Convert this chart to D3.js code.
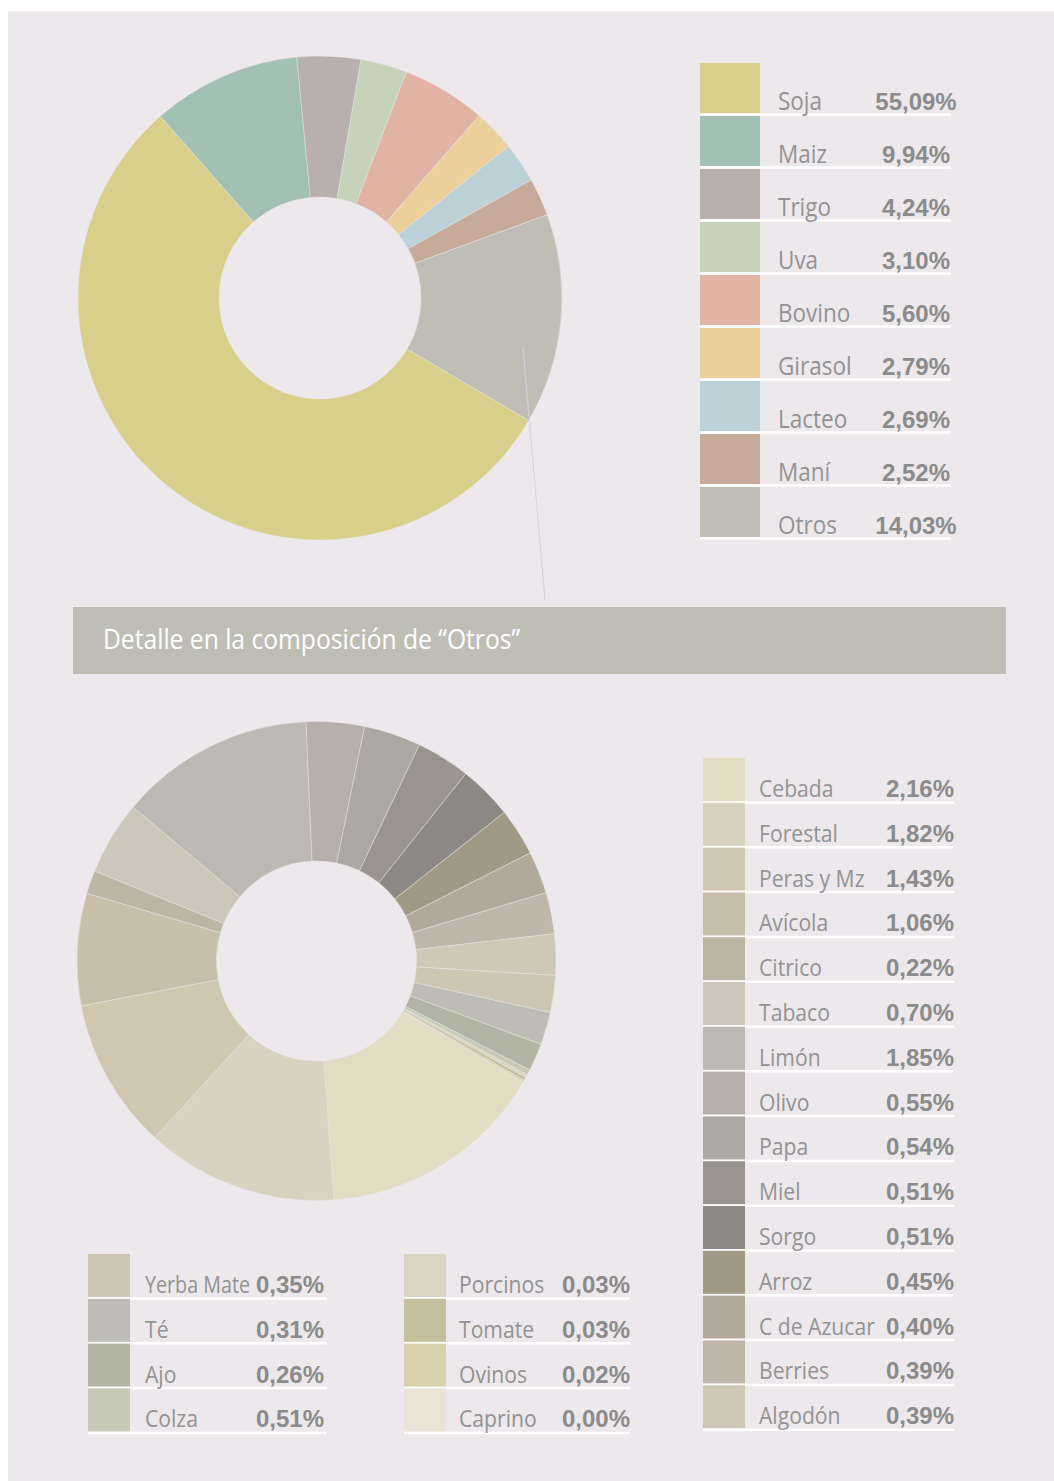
<!DOCTYPE html>
<html>
<head>
<meta charset="utf-8">
<script src="https://cdn.jsdelivr.net/npm/d3@7"></script>
<style>
  html, body { margin: 0; padding: 0; background: #fff; }
</style>
</head>
<body>
<div id="chart"></div>
<script>
// main composition
const topCats = ["Soja", "Maiz", "Trigo", "Uva", "Bovino", "Girasol", "Lacteo", "Maní", "Otros"];
const topValues = [55.09, 9.94, 4.24, 3.10, 5.60, 2.79, 2.69, 2.52, 14.03];
const topColors = ["#d8d08a", "#a3c0b4", "#b8b0ac", "#c6d2b9", "#e0b3a4", "#ebd09c", "#bcd0d7", "#c6ab9b", "#bfbeb5"];

// detail of "Otros"
const otrosCats = ["Cebada", "Forestal", "Peras y Mz", "Avícola", "Citrico", "Tabaco", "Limón", "Olivo", "Papa",
  "Miel", "Sorgo", "Arroz", "C de Azucar", "Berries", "Algodón",
  "Yerba Mate", "Té", "Ajo", "Colza", "Porcinos", "Tomate", "Ovinos", "Caprino"];
// slice shares as drawn (Colza is printed 0,51% but drawn as a thin slice)
const otrosValues = [2.16, 1.82, 1.43, 1.06, 0.22, 0.70, 1.85, 0.55, 0.54,
  0.51, 0.51, 0.45, 0.40, 0.39, 0.39,
  0.35, 0.31, 0.26, 0.05, 0.03, 0.03, 0.02, 0.00];
const otrosLabels = ["2,16%", "1,82%", "1,43%", "1,06%", "0,22%", "0,70%", "1,85%", "0,55%", "0,54%",
  "0,51%", "0,51%", "0,45%", "0,40%", "0,39%", "0,39%",
  "0,35%", "0,31%", "0,26%", "0,51%", "0,03%", "0,03%", "0,02%", "0,00%"];
const otrosColors = ["#e2dcc3", "#d8d2c0", "#cfc7b0", "#c8bfaa", "#bcb6a5", "#cbc8bb", "#bcb8b4", "#b5aeab", "#aba8a4",
  "#99948f", "#8c8883", "#a09985", "#b3a99b", "#c0b6aa", "#cfc8b6",
  "#cdc6b3", "#bdbdb5", "#b2b5a4", "#c6c9b6", "#d8d6c3", "#c4bf9d", "#d9d1ab", "#e9e4d6"];

const title = "Detalle en la composición de “Otros”";

const width = 1054, height = 1481;
const startDeg = 120.4;
const labelFont = "'Open Sans','Noto Sans',sans-serif";
const valueFont = "'Liberation Sans',Arial,sans-serif";
const squeeze = 0.9; // labels are a narrow humanist face

const svg = d3.select("#chart").append("svg")
  .attr("width", width)
  .attr("height", height);

// panel
svg.append("rect")
  .attr("x", 8).attr("y", 11)
  .attr("width", width - 8).attr("height", height - 11)
  .attr("fill", "#ece8ec");

const fmt = v => d3.format(".2f")(v).replace(".", ",") + "%";

const pie = d3.pie()
  .sort(null)
  .value(d => d)
  .startAngle(startDeg * Math.PI / 180)
  .endAngle(startDeg * Math.PI / 180 + 2 * Math.PI);

// ---- top donut
const topArcs = pie(topValues);
const topArc = d3.arc().innerRadius(101).outerRadius(242);
const gTop = svg.append("g").attr("transform", "translate(320,298)");
gTop.selectAll("path")
  .data(topArcs)
  .join("path")
  .attr("d", topArc)
  .attr("fill", (d, i) => topColors[i])
  .attr("stroke", "#e6e2e2")
  .attr("stroke-width", 0.5);

// leader line from "Otros" slice down to the detail header
const otros = topArcs[topArcs.length - 1];
const la = otros.startAngle + 0.67 * (otros.endAngle - otros.startAngle);
svg.append("line")
  .attr("x1", 320 + 209 * Math.sin(la))
  .attr("y1", 298 - 209 * Math.cos(la))
  .attr("x2", 545).attr("y2", 600)
  .attr("stroke", "#d6d1d8")
  .attr("stroke-width", 1);

// ---- header bar
svg.append("rect")
  .attr("x", 73).attr("y", 607)
  .attr("width", 933).attr("height", 67)
  .attr("fill", "#bfbeb5");
svg.append("text")
  .attr("transform", "translate(103,649) scale(0.88,1)")
  .attr("fill", "#fff")
  .style("font-family", labelFont)
  .style("font-size", "28px")
  .text(title);

// ---- bottom donut
const gBot = svg.append("g").attr("transform", "translate(316.5,961)");
const botArc = d3.arc().innerRadius(100).outerRadius(239.5);
gBot.selectAll("path")
  .data(pie(otrosValues))
  .join("path")
  .attr("d", botArc)
  .attr("fill", (d, i) => otrosColors[i])
  .attr("stroke", "#e6e2e2")
  .attr("stroke-width", 0.5);

// ---- legends
function drawLegend(names, colors, labels, o) {
  const y = d3.scaleLinear().domain([0, 1]).range([o.top, o.top + o.pitch]);
  const row = svg.append("g").selectAll("g")
    .data(names)
    .join("g")
    .attr("transform", (d, i) => `translate(0,${y(i)})`);
  row.append("rect")
    .attr("x", o.x).attr("width", o.sw).attr("height", o.sh)
    .attr("fill", (d, i) => colors[i]);
  row.append("line")
    .attr("x1", o.x).attr("x2", o.lineEnd)
    .attr("y1", o.sh + 1.5).attr("y2", o.sh + 1.5)
    .attr("stroke", "#fff").attr("stroke-width", 2.5);
  row.each(function (d, i) {
    const r = d3.select(this);
    const val = r.append("text")
      .attr("x", o.valueX).attr("y", o.base)
      .attr("text-anchor", "middle")
      .attr("fill", "#8b8b8b")
      .style("font-family", valueFont)
      .style("font-weight", "bold")
      .style("font-size", o.valueSize + "px")
      .text(labels[i]);
    const lab = r.append("text")
      .attr("transform", `translate(${o.labelX},${o.base}) scale(${squeeze},1)`)
      .attr("fill", "#939393")
      .style("font-family", labelFont)
      .style("font-size", o.labelSize + "px")
      .text(d);
    // keep long names clear of the value
    const room = (o.valueX - val.node().getComputedTextLength() / 2 - 6 - o.labelX) / squeeze;
    if (lab.node().getComputedTextLength() > room) {
      lab.attr("textLength", room).attr("lengthAdjust", "spacingAndGlyphs");
    }
  });
}

drawLegend(topCats, topColors, topValues.map(fmt), {
  top: 63, pitch: 53, x: 700, sw: 60, sh: 50, lineEnd: 951,
  labelX: 778, valueX: 916, base: 47, labelSize: 25, valueSize: 24
});

const botOpt = { top: 758, pitch: 44.8, sw: 42, sh: 43, base: 39, labelSize: 23.5, valueSize: 24 };
drawLegend(otrosCats.slice(0, 15), otrosColors.slice(0, 15), otrosLabels.slice(0, 15),
  Object.assign({}, botOpt, { x: 703, lineEnd: 954, labelX: 759, valueX: 920 }));
drawLegend(otrosCats.slice(15, 19), otrosColors.slice(15, 19), otrosLabels.slice(15, 19),
  Object.assign({}, botOpt, { top: 1254, x: 88, lineEnd: 327, labelX: 145, valueX: 290 }));
drawLegend(otrosCats.slice(19), otrosColors.slice(19), otrosLabels.slice(19),
  Object.assign({}, botOpt, { top: 1254, x: 404, lineEnd: 630, labelX: 459, valueX: 596 }));
</script>
</body>
</html>
